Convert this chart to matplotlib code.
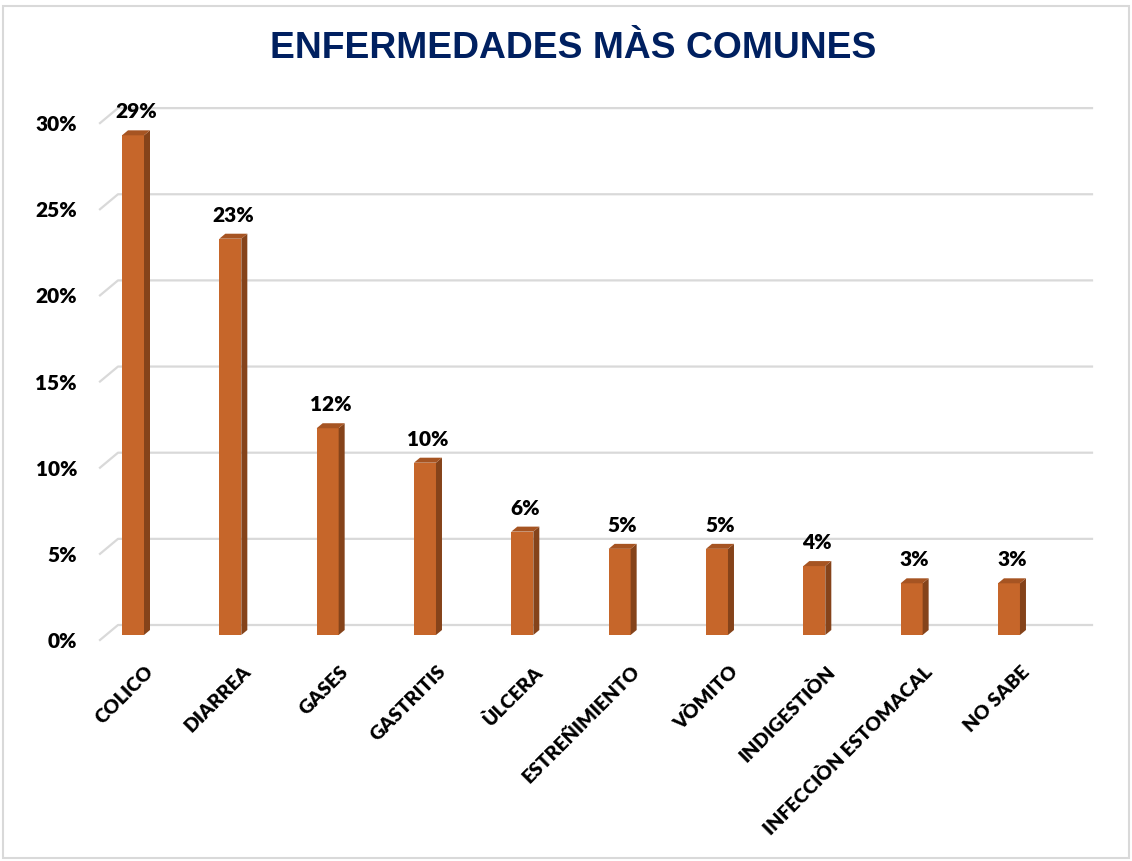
import matplotlib
matplotlib.use("Agg")
import matplotlib.pyplot as plt
from matplotlib.patches import Polygon, Rectangle

categorias = ["COLICO", "DIARREA", "GASES", "GASTRITIS", "ÙLCERA",
              "ESTREÑIMIENTO", "VÒMITO", "INDIGESTIÒN",
              "INFECCIÒN ESTOMACAL", "NO SABE"]
porcentajes = [29, 23, 12, 10, 6, 5, 5, 4, 3, 3]
ticks_y = [0, 5, 10, 15, 20, 25, 30]
titulo = "ENFERMEDADES MÀS COMUNES"

frente = "#C6662A"
lado = "#85431A"
tapa = "#A65422"
gris = "#D9D9D9"

fuente = ["Lato", "DejaVu Sans"]

W, H = 1132, 861
fig = plt.figure(figsize=(W / 100, H / 100), dpi=100)

# plot area in pixels (front plane)
px_left, px_right, px_zero = 100, 1074, 640
px_per_unit = 97.33
px_per_pct = 17.23
x0 = (px_left - 127) / px_per_unit
x1 = (px_right - 127) / px_per_unit
ytop = 31.5
ax = fig.add_axes([px_left / W, (H - px_zero) / H,
                   (px_right - px_left) / W, ytop * px_per_pct / H])
ax.set_xlim(x0, x1)
ax.set_ylim(0, ytop)

# depth of the 3d floor
Dx = 18 / px_per_unit
Dy = 15 / px_per_pct
w = 22 / px_per_unit

# gridlines on back wall + left diagonal
for v in ticks_y:
    ax.plot([x0, x0 + Dx, x1 + Dx], [v, v + Dy, v + Dy], color=gris,
            lw=1.6, clip_on=False, zorder=1)

# bars with fake depth
dx, dy = Dx / 3, Dy / 3
for i, v in enumerate(porcentajes):
    xa = i + dx - w / 2
    xb = xa + w
    b = dy
    ax.add_patch(Rectangle((xa, b), w, v, facecolor=frente, edgecolor="none", zorder=3))
    ax.add_patch(Polygon([(xb, b), (xb, b + v), (xb + dx, b + v + dy), (xb + dx, b + dy)],
                         closed=True, facecolor=lado, edgecolor="none", zorder=3))
    ax.add_patch(Polygon([(xa, b + v), (xb, b + v), (xb + dx, b + v + dy), (xa + dx, b + v + dy)],
                         closed=True, facecolor=tapa, edgecolor="none", zorder=3))
    ax.annotate(f"{v}%", xy=(i + dx + dx / 2, b + v + dy), xytext=(0, 9),
                textcoords="offset pixels", ha="center", va="bottom",
                fontsize=15, fontweight="heavy", family=fuente, clip_on=False)

# category labels
for i, c in enumerate(categorias):
    ax.annotate(c, xy=(i + dx, 0), xytext=(18, -29), textcoords="offset pixels",
                rotation=45, ha="right", va="center", rotation_mode="anchor",
                fontsize=14, fontweight="heavy", family=fuente, annotation_clip=False)

ax.set_xticks([])
ax.set_yticks(ticks_y)
ax.set_yticklabels([f"{t}%" for t in ticks_y], fontsize=15, fontweight="heavy", family=fuente)
ax.tick_params(axis="y", length=0, pad=16.5)
for s in ax.spines.values():
    s.set_visible(False)
ax.patch.set_alpha(0)

fig.text(573 / W, 1 - 48 / H, titulo, ha="center", va="center",
         fontsize=26.8, fontweight="bold", color="#002060",
         family=["Liberation Sans", "DejaVu Sans"])

fig.patches.append(Rectangle((3 / W, 3 / H), (W - 6) / W, (H - 9) / H,
                             transform=fig.transFigure, fill=False,
                             edgecolor=gris, lw=1.5))

fig.savefig("out.png", dpi=100)
